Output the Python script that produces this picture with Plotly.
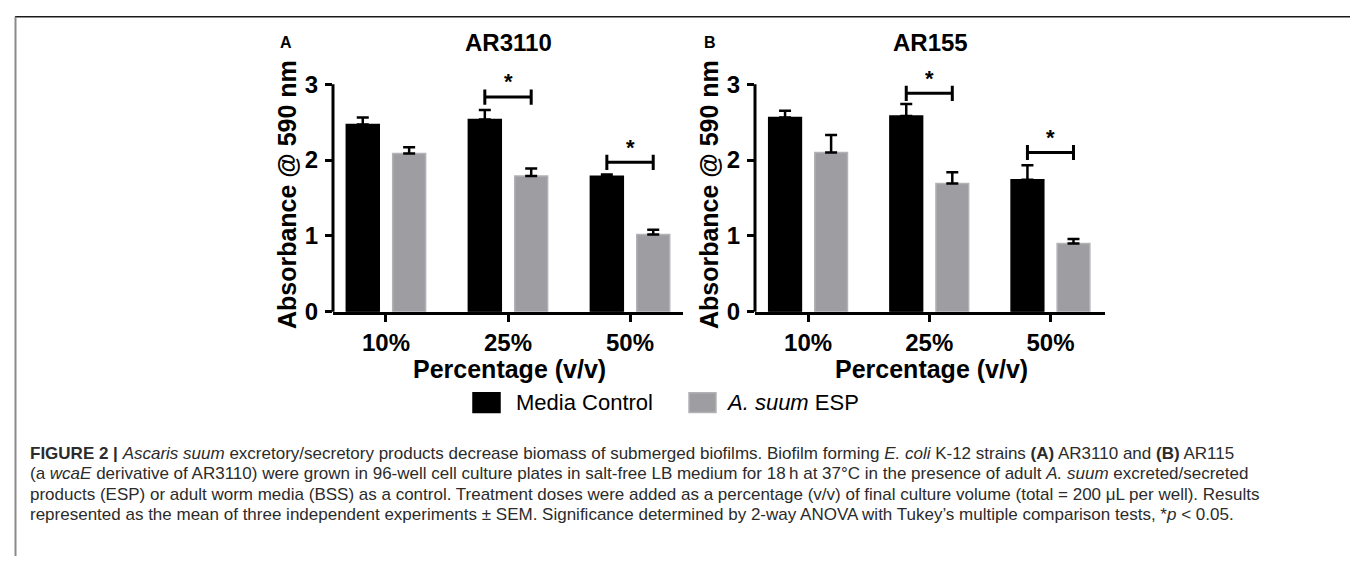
import plotly.graph_objects as go

W, H = 1358, 561

# ---------------- data ----------------
categories = ["10%", "25%", "50%"]
series_names = ["Media Control", "A. suum ESP"]
series_labels = ["Media Control", "<i>A. suum</i> ESP"]

A_control = [2.47, 2.535, 1.785]
A_control_sem = [0.09, 0.125, 0.025]
A_esp = [2.085, 1.79, 1.02]
A_esp_sem = [0.085, 0.10, 0.06]

B_control = [2.56, 2.58, 1.74]
B_control_sem = [0.09, 0.16, 0.19]
B_esp = [2.10, 1.69, 0.90]
B_esp_sem = [0.23, 0.15, 0.06]

panel_titles = ["AR3110", "AR155"]
panel_letters = ["A", "B"]

# significance brackets: (category, bracket height)
A_sig = [("25%", 2.83), ("50%", 1.97)]
B_sig = [("25%", 2.88), ("50%", 2.10)]

y_ticks = [0, 1, 2, 3]
y_title = "Absorbance @ 590 nm"
x_title = "Percentage (v/v)"

caption_lines = [
    "<b>FIGURE 2 |</b> <i>Ascaris suum</i> excretory/secretory products decrease biomass of submerged biofilms. "
    "Biofilm forming <i>E. coli</i> K-12 strains <b>(A)</b> AR3110 and <b>(B)</b> AR115",
    "(a <i>wcaE</i> derivative of AR3110) were grown in 96-well cell culture plates in salt-free LB medium "
    "for 18\u2009h at 37°C in the presence of adult <i>A. suum</i> excreted/secreted",
    "products (ESP) or adult worm media (BSS) as a control. Treatment doses were added as a percentage (v/v) "
    "of final culture volume (total = 200 μL per well). Results",
    "represented as the mean of three independent experiments ± SEM. Significance determined by 2-way ANOVA "
    "with Tukey’s multiple comparison tests, *<i>p</i> < 0.05.",
]

# ---------------- style ----------------
BLACK = "#000000"
GREY = "#9e9da2"
GREY_EDGE = "#b3b2b6"
FONT = "Liberation Sans, Arial, sans-serif"


def xp(px):
    return px / W


def yp(py):
    return 1 - py / H


def note(x, y, text, size, xanchor="center", yanchor="middle", color=BLACK, **kw):
    fig.add_annotation(xref="paper", yref="paper", x=xp(x), y=yp(y), text=text,
                       xanchor=xanchor, yanchor=yanchor, showarrow=False,
                       font=dict(family=FONT, size=size, color=color), **kw)


fig = go.Figure()

panels = [
    dict(ctrl=A_control, ctrl_sem=A_control_sem, esp=A_esp, esp_sem=A_esp_sem,
         sig=A_sig, xa="x", ya="y", x0=325, x1=675),
    dict(ctrl=B_control, ctrl_sem=B_control_sem, esp=B_esp, esp_sem=B_esp_sem,
         sig=B_sig, xa="x2", ya="y2", x0=747, x1=1097),
]

BAR_W = 0.27
OFFSETS = [-0.325, 0.055]
Y_MAX = 3.3
Y_BOT_PX = 311
PX_PER_UNIT = 233 / 3
Y_TOP_PX = Y_BOT_PX - Y_MAX * PX_PER_UNIT

for i, p in enumerate(panels):
    for s, (vals, sem, col, edge) in enumerate([
        (p["ctrl"], p["ctrl_sem"], BLACK, BLACK),
        (p["esp"], p["esp_sem"], GREY, GREY_EDGE),
    ]):
        fig.add_trace(go.Bar(
            x=categories, y=vals, name=series_names[s], showlegend=False,
            xaxis=p["xa"], yaxis=p["ya"],
            width=BAR_W, offset=OFFSETS[s],
            marker=dict(color=col, line=dict(color=edge, width=1.5)),
            error_y=dict(type="data", array=sem, arrayminus=[0] * len(sem),
                         symmetric=False, color=BLACK, thickness=2.5, width=6),
        ))

    # y axis line only up to the last tick
    fig.add_shape(type="line", xref=f"{p['xa']} domain", yref=p["ya"], x0=0, x1=0,
                  y0=-0.025, y1=y_ticks[-1], line=dict(color=BLACK, width=3))

    # significance brackets and stars
    for cat, h in p["sig"]:
        idx = categories.index(cat)
        xl = idx + OFFSETS[0] + BAR_W / 2
        xr = idx + OFFSETS[1] + BAR_W / 2
        line = dict(color=BLACK, width=3)
        fig.add_shape(type="line", xref=p["xa"], yref=p["ya"], x0=xl, x1=xr, y0=h, y1=h, line=line)
        fig.add_shape(type="line", xref=p["xa"], yref=p["ya"], x0=xl, x1=xl, y0=h - 0.1, y1=h + 0.1, line=line)
        fig.add_shape(type="line", xref=p["xa"], yref=p["ya"], x0=xr, x1=xr, y0=h - 0.1, y1=h + 0.1, line=line)
        fig.add_annotation(xref=p["xa"], yref=p["ya"], x=cat, y=h + 0.2, text="<b>*</b>",
                           showarrow=False, xanchor="center", yanchor="middle",
                           font=dict(family=FONT, size=22, color=BLACK))

    # axis titles
    note(p["x0"] - 46, (78 + Y_BOT_PX) / 2 - 3, f"<b>{y_title}</b>", 25, textangle=-90)
    note((p["x0"] + p["x1"]) / 2 + 1, 370, f"<b>{x_title}</b>", 25)

# panel titles and letters
for cx, title in zip([500, 922], panel_titles):
    note(cx, 35, f"<b>{title}</b>", 24)
for cx, letter in zip([278, 702], panel_letters):
    note(cx, 35, f"<b>{letter}</b>", 16)

# custom legend
for (bx, tx), label, col, edge in zip([(465, 506), (681, 716)], series_labels,
                                      [BLACK, GREY], [BLACK, GREY_EDGE]):
    fig.add_shape(type="rect", xref="paper", yref="paper", x0=xp(bx), x1=xp(bx + 27),
                  y0=yp(414), y1=yp(394), fillcolor=col, line=dict(color=edge, width=1.5))
    note(tx, 404, label, 22, xanchor="left")

# caption
for k, txt in enumerate(caption_lines):
    note(20, 456 + 21 * k, txt, 17, xanchor="left", color="#2b2b2b")

# frame
fig.add_shape(type="line", xref="paper", yref="paper", x0=xp(7), x1=xp(1356), y0=yp(9), y1=yp(9),
              line=dict(color="#1a1a1a", width=1.5))
for fx in (7.5, 1355.5):
    fig.add_shape(type="line", xref="paper", yref="paper", x0=xp(fx), x1=xp(fx), y0=yp(9), y1=0,
                  line=dict(color="#8a8a8a", width=2))

tickfont = dict(family=FONT, size=24, color=BLACK, weight="bold")
x_common = dict(showline=True, linecolor=BLACK, linewidth=3, ticks="outside", ticklen=7,
                tickwidth=3, tickcolor=BLACK, showgrid=False, zeroline=False, tickfont=tickfont,
                type="category")
y_common = dict(showline=False, ticks="outside", ticklen=7, tickwidth=3, tickcolor=BLACK,
                showgrid=False, zeroline=False, tickfont=tickfont, range=[0, Y_MAX],
                tickvals=y_ticks, ticklabelstandoff=2)

ydom = [yp(Y_BOT_PX), yp(Y_TOP_PX)]
fig.update_layout(
    width=W, height=H, margin=dict(l=0, r=0, t=0, b=0),
    paper_bgcolor="white", plot_bgcolor="white",
    barmode="overlay", showlegend=False,
    xaxis=dict(domain=[xp(325), xp(675)], range=[-0.434, 2.434], anchor="y", **x_common),
    yaxis=dict(domain=ydom, anchor="x", **y_common),
    xaxis2=dict(domain=[xp(747), xp(1097)], range=[-0.438, 2.45], anchor="y2", **x_common),
    yaxis2=dict(domain=ydom, anchor="x2", **y_common),
)

fig.write_html("out.html")
